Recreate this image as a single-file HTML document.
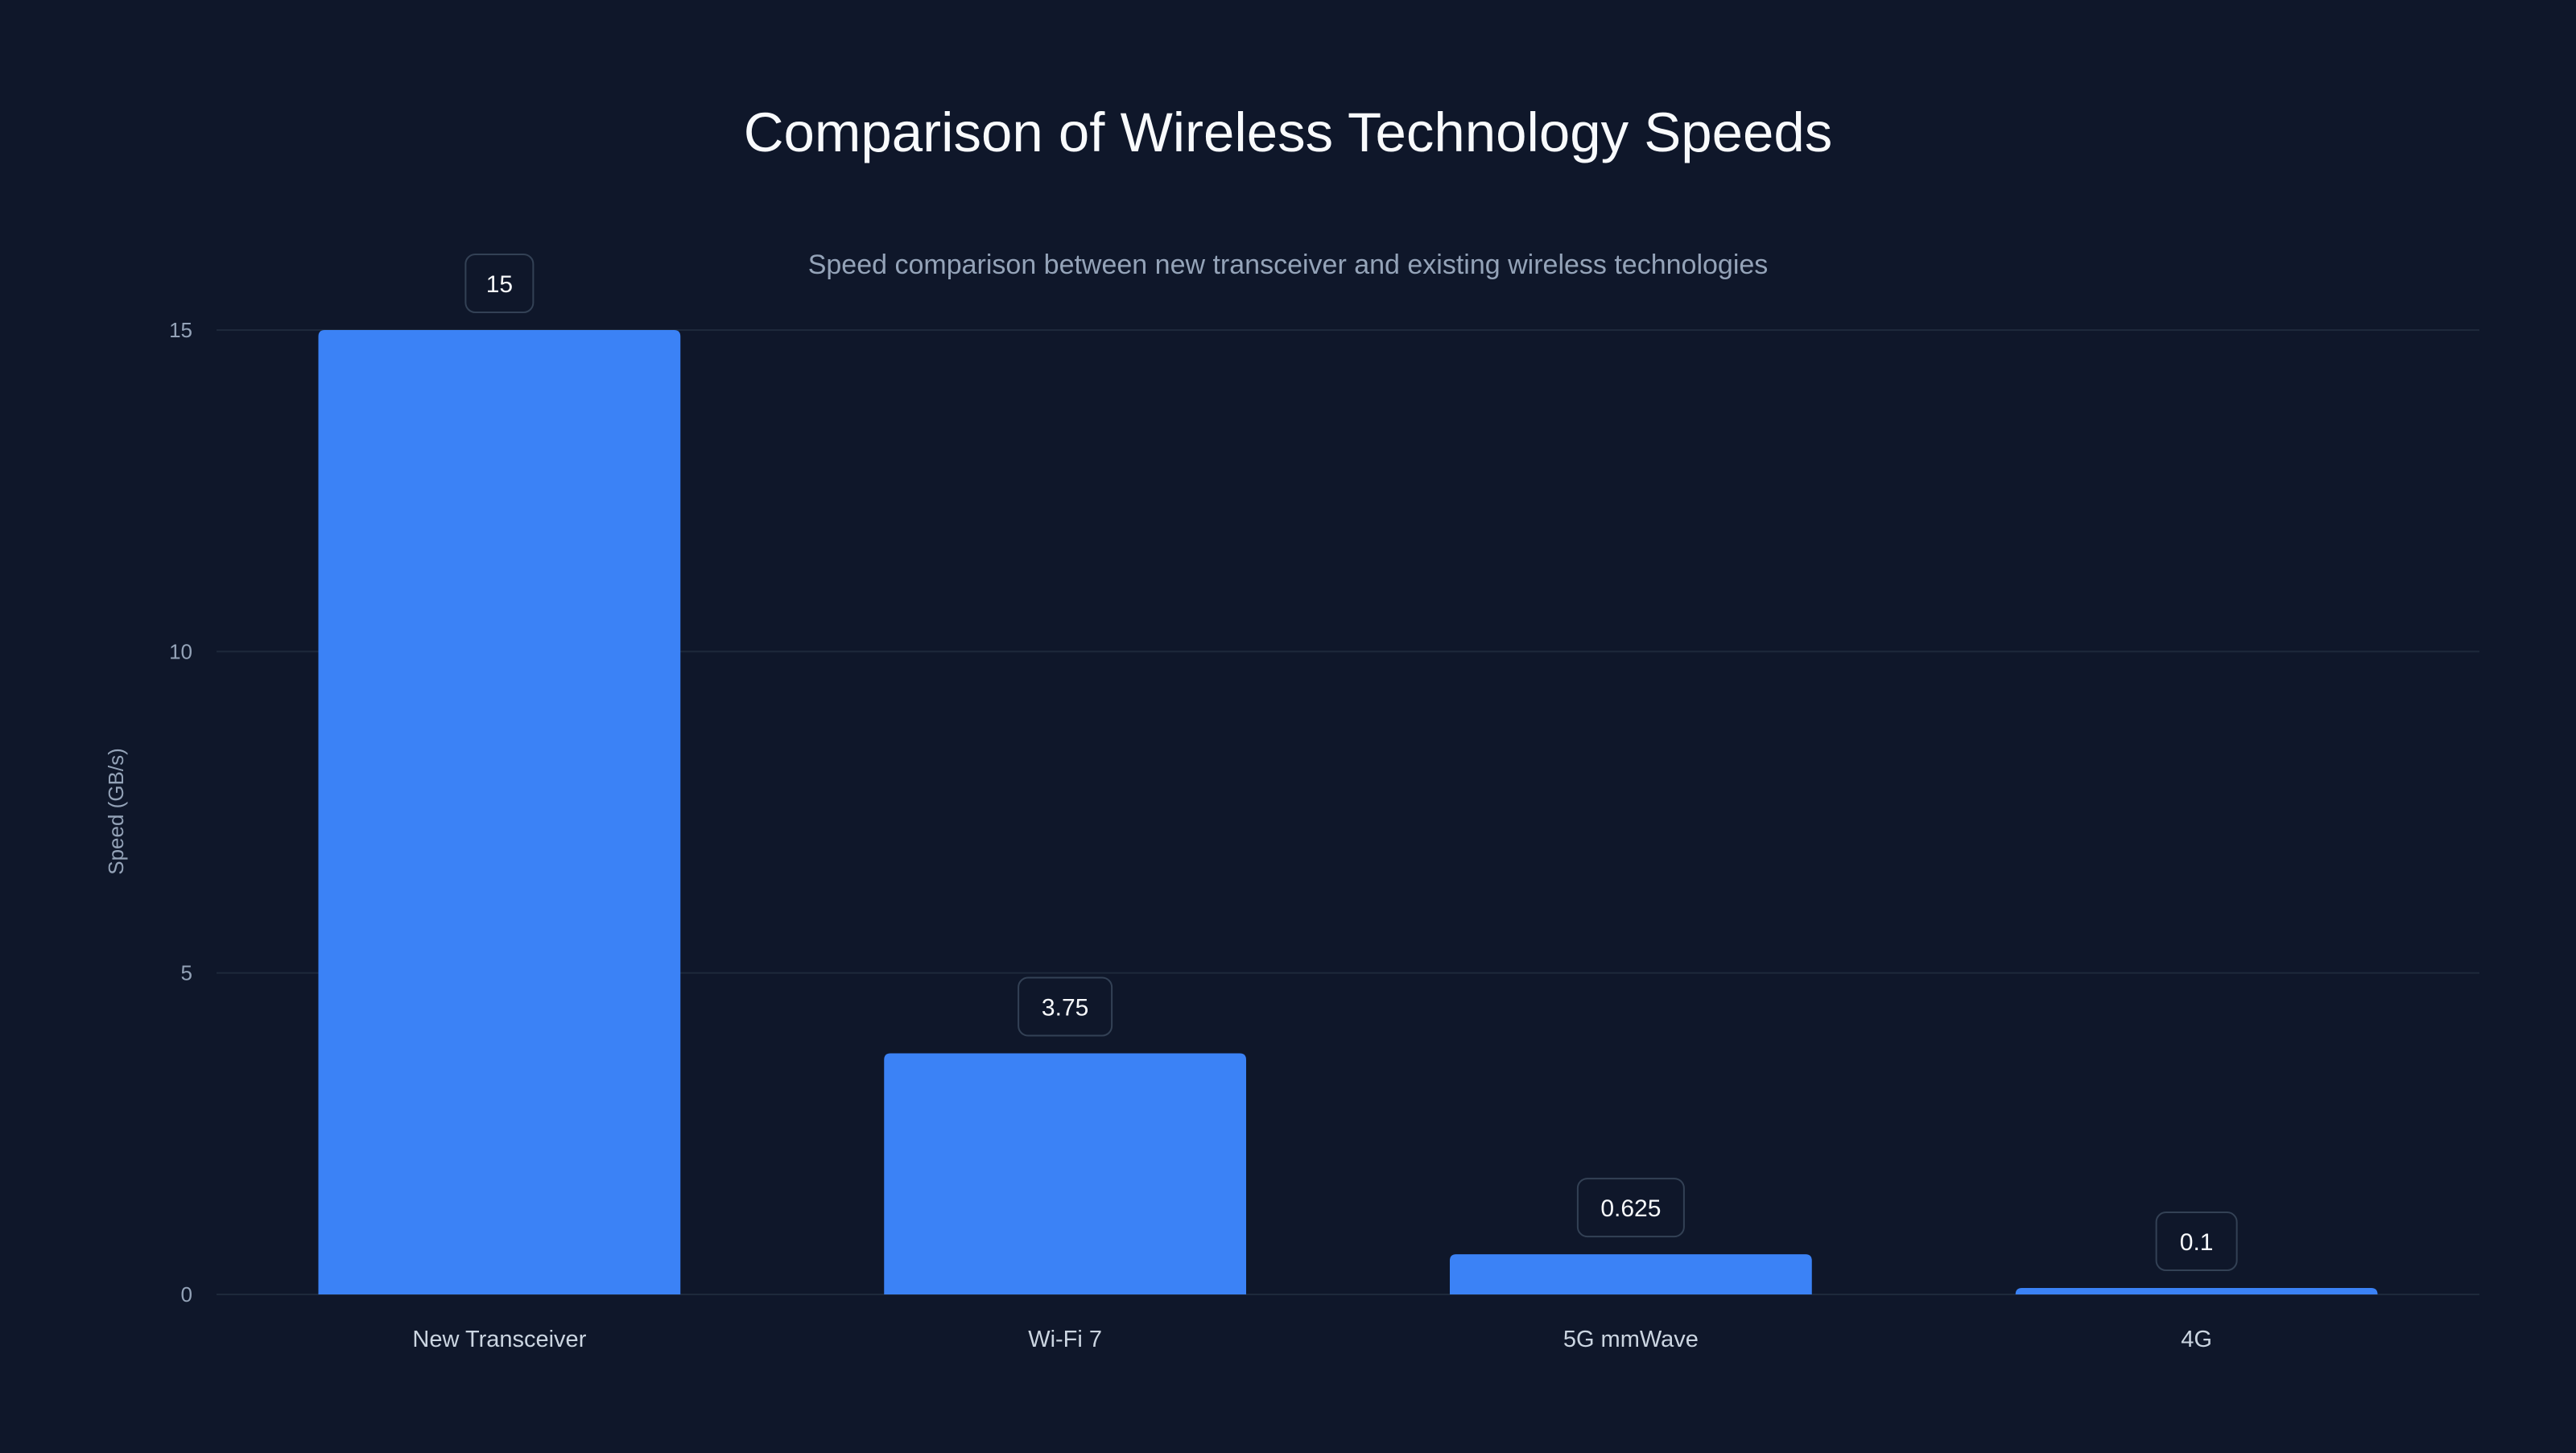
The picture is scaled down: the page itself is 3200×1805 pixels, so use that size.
<!DOCTYPE html>
<html><head><meta charset="utf-8">
<style>
html,body{margin:0;padding:0;background:#0f172a;}
body{width:3200px;height:1800px;overflow:hidden;font-family:"Liberation Sans",sans-serif;}
svg text{font-family:"Liberation Sans",sans-serif;}
</style></head>
<body>
<svg id="chart" width="3200" height="1800" viewBox="0 0 3200 1800" xmlns="http://www.w3.org/2000/svg">
<rect width="3200" height="1800" fill="#0f172a"/>
<text x="1600" y="188" text-anchor="middle" fill="#f8fafc" font-size="69">Comparison of Wireless Technology Speeds</text>
<text x="1600" y="340" text-anchor="middle" fill="#94a3b8" font-size="34">Speed comparison between new transceiver and existing wireless technologies</text>
<text transform="translate(153,1008) rotate(-90)" text-anchor="middle" fill="#94a3b8" font-size="26">Speed (GB/s)</text>
<g id="grid"></g><g id="bars"></g><g id="labels"></g>
</svg>
<script>
const categories = ["New Transceiver","Wi-Fi 7","5G mmWave","4G"];
const values = [15,3.75,0.625,0.1];
const valueLabels = ["15","3.75","0.625","0.1"];
const yTicks = [0,5,10,15];

const NS="http://www.w3.org/2000/svg";
const L=269,R=3080,T=410,B=1608,yMax=15;
const y=v=>B-(v/yMax)*(B-T);
const band=(R-L)/categories.length;
const xc=i=>L+band*(i+0.5);
const bw=band*0.64;
function mk(tag,attrs,parent,txt){const e=document.createElementNS(NS,tag);for(const k in attrs)e.setAttribute(k,attrs[k]);if(txt!==undefined)e.textContent=txt;parent.appendChild(e);return e;}
const grid=document.getElementById('grid'),bars=document.getElementById('bars'),labels=document.getElementById('labels');
yTicks.forEach(t=>{
  const l=mk('line',{x1:L,x2:R,y1:y(t),y2:y(t),stroke:'#1e293b','stroke-width':2},grid);
  
  
  const tx=mk('text',{x:239,y:y(t)+9,'text-anchor':'end',fill:'#94a3b8','font-size':26},grid,String(t));
  
  
});
categories.forEach((c,i)=>{
  const top=y(values[i]),h=B-top,x0=xc(i)-bw/2,r=Math.min(8,h);
  const p=mk('path',{d:`M${x0},${B} V${top+r} Q${x0},${top} ${x0+r},${top} H${x0+bw-r} Q${x0+bw},${top} ${x0+bw},${top+r} V${B} Z`,fill:'#3b82f6'},bars);
  
  
  const xl=mk('text',{x:xc(i),y:1673,'text-anchor':'middle',fill:'#cbd5e1','font-size':29},labels,c);
  
  
  const txt=valueLabels[i];
  const w=txt.length*16+52,cy=top-58;
  const bx=mk('rect',{x:xc(i)-w/2,y:cy-36,width:w,height:72,rx:12,fill:'#0f172a',stroke:'#334155','stroke-width':2},labels);
  
  
  const vt=mk('text',{x:xc(i),y:cy+11,'text-anchor':'middle',fill:'#f8fafc','font-size':30},labels,txt);
  
  
});
</script>
</body></html>
